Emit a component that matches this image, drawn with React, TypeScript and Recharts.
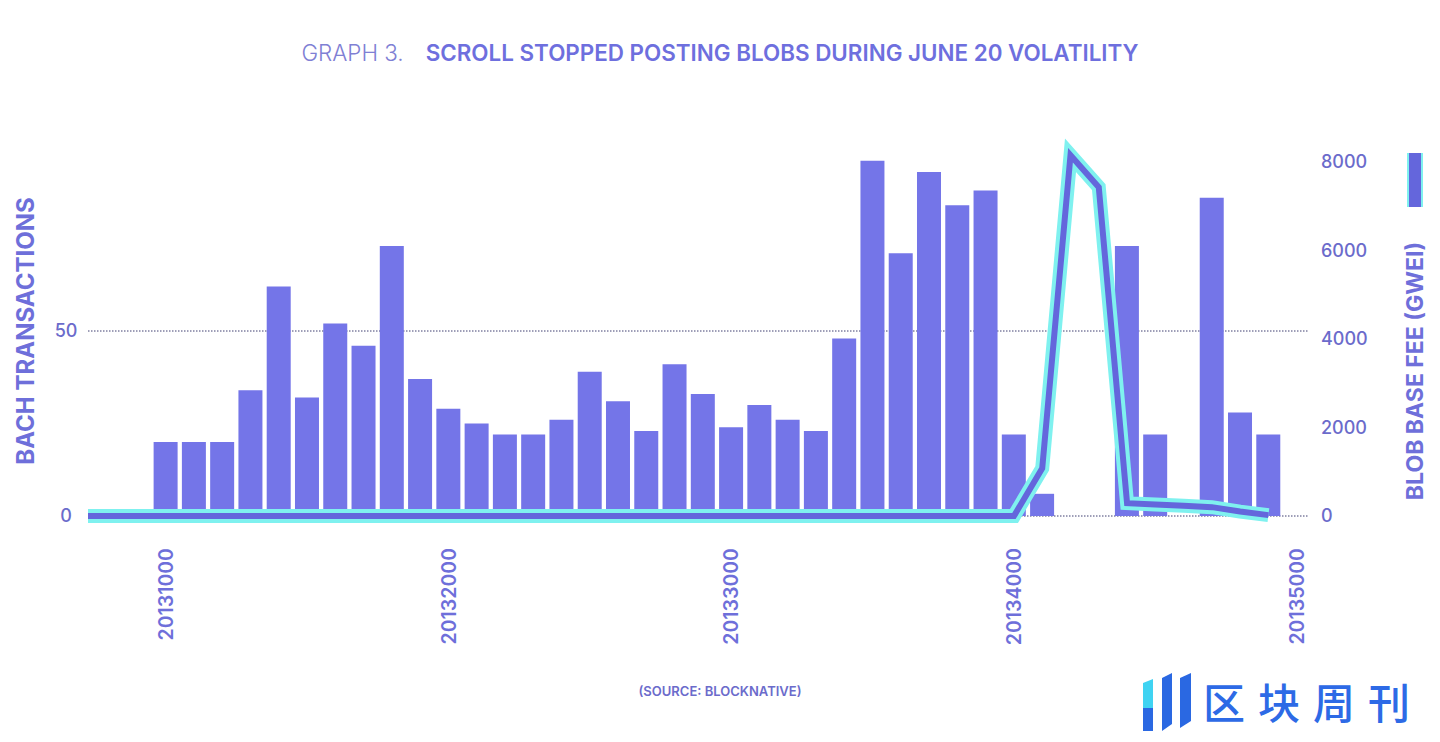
import { ComposedChart, Bar, Line, XAxis, YAxis, CartesianGrid } from "recharts";

// block numbers, one bar per 100 blocks
const blocks = [
  20131000, 20131100, 20131200, 20131300, 20131400, 20131500, 20131600, 20131700, 20131800, 20131900,
  20132000, 20132100, 20132200, 20132300, 20132400, 20132500, 20132600, 20132700, 20132800, 20132900,
  20133000, 20133100, 20133200, 20133300, 20133400, 20133500, 20133600, 20133700, 20133800, 20133900,
  20134000, 20134100, 20134200, 20134300, 20134400, 20134500, 20134600, 20134700, 20134800, 20134900,
];

const batchTransactions = [
  20, 20, 20, 34, 62, 32, 52, 46, 73, 37,
  29, 25, 22, 22, 26, 39, 31, 23, 41, 33,
  24, 30, 26, 23, 48, 96, 71, 93, 84, 88,
  22, 6, 0, 0, 73, 22, 0, 86, 28, 22,
];

const blobBaseFee = [
  0, 0, 0, 0, 0, 0, 0, 0, 0, 0,
  0, 0, 0, 0, 0, 0, 0, 0, 0, 0,
  0, 0, 0, 0, 0, 0, 0, 0, 0, 0,
  0, 1080, 8150, 7430, 290, 260, 230, 200, 100, 20,
];

// fee series starts at the left edge of the plot
const feeStartBlock = 20130725;
const feeStartValue = 0;

const xDomain = [20130725, 20135040];
const xTicks = [20131000, 20132000, 20133000, 20134000, 20135000];
const leftTicks = [0, 50];
const rightTicks = [0, 2000, 4000, 6000, 8000];

const BAR = "#7475E8";
const LINE = "#6466DC";
const GLOW = "#7FF1EF";
const TEXT = "#6B6BCB";
const LABEL = "#6E6FDA";
const FONT = "Inter, 'Noto Sans', sans-serif";

const data = [
  { block: feeStartBlock, tx: null as number | null, fee: feeStartValue },
  ...blocks.map((b, i) => ({ block: b, tx: batchTransactions[i], fee: blobBaseFee[i] })),
];

const XTick = ({ x, y, payload }: any) => (
  <text
    x={x}
    y={y + 24}
    transform={`rotate(-90 ${x} ${y + 24})`}
    textAnchor="end"
    dy="0.36em"
    fill={LABEL}
    fontSize={19.5}
    fontWeight={600}
    fontFamily={FONT}
  >
    {payload.value}
  </text>
);

const LeftTick = ({ x, y, payload }: any) => (
  <text x={x - 14} y={y} dy="0.36em" textAnchor="middle" fill={TEXT} fontSize={18} fontWeight={500} fontFamily={FONT}>
    {payload.value}
  </text>
);

const RightTick = ({ x, y, payload }: any) => (
  <text x={x + 5} y={y} dy="0.36em" textAnchor="start" fill={TEXT} fontSize={18} fontWeight={500} fontFamily={FONT}>
    {payload.value}
  </text>
);

export default function App() {
  return (
    <div style={{ position: "absolute", left: 0, top: 0, width: 1440, height: 742, background: "#fff", fontFamily: FONT }}>
      <div
        style={{
          position: "absolute",
          top: 41,
          width: 1440,
          textAlign: "center",
          fontSize: 22.4,
          lineHeight: "24px",
          whiteSpace: "nowrap",
        }}
      >
        <span style={{ color: "#7F80D4", fontWeight: 300 }}>GRAPH 3.</span>
        <span style={{ display: "inline-block", width: 22 }} />
        <span style={{ color: "#6E6FDE", fontWeight: 600 }}>SCROLL STOPPED POSTING BLOBS DURING JUNE 20 VOLATILITY</span>
      </div>

      <ComposedChart
        width={1440}
        height={742}
        data={data}
        margin={{ top: 146, right: 52, bottom: 96, left: 0 }}
        style={{ position: "absolute", left: 0, top: 0 }}
      >
        <CartesianGrid
          yAxisId="left"
          vertical={false}
          horizontalValues={leftTicks}
          stroke="#3F3F70"
          strokeDasharray="1.5 1.5"
        />
        <XAxis
          dataKey="block"
          type="number"
          domain={xDomain}
          ticks={xTicks}
          allowDataOverflow
          axisLine={false}
          tickLine={false}
          height={130}
          tick={<XTick />}
        />
        <YAxis
          yAxisId="left"
          domain={[0, 100]}
          ticks={leftTicks}
          width={88}
          axisLine={false}
          tickLine={false}
          tick={<LeftTick />}
        />
        <YAxis
          yAxisId="right"
          orientation="right"
          domain={[0, 8360]}
          ticks={rightTicks}
          width={80}
          axisLine={false}
          tickLine={false}
          tick={<RightTick />}
        />
        <Bar yAxisId="left" dataKey="tx" fill={BAR} barSize={24} isAnimationActive={false} />
        <Line
          yAxisId="right"
          dataKey="fee"
          type="linear"
          stroke={GLOW}
          strokeWidth={14}
          strokeLinejoin="miter"
          dot={false}
          activeDot={false}
          isAnimationActive={false}
        />
        <Line
          yAxisId="right"
          dataKey="fee"
          type="linear"
          stroke={LINE}
          strokeWidth={6}
          strokeLinejoin="miter"
          dot={false}
          activeDot={false}
          isAnimationActive={false}
        />
      </ComposedChart>

      <svg width={1440} height={742} style={{ position: "absolute", left: 0, top: 0, pointerEvents: "none" }}>
        <text
          x={25}
          y={331}
          transform="rotate(-90 25 331)"
          textAnchor="middle"
          dy="0.36em"
          fill={LABEL}
          fontSize={24}
          fontWeight={700}
          fontFamily={FONT}
        >
          BACH TRANSACTIONS
        </text>
        <text
          x={1415}
          y={371}
          transform="rotate(-90 1415 371)"
          textAnchor="middle"
          dy="0.36em"
          fill={LABEL}
          fontSize={23}
          fontWeight={700}
          fontFamily={FONT}
        >
          BLOB BASE FEE (GWEI)
        </text>
        <rect x={1407} y={153} width={16} height={54} fill={GLOW} />
        <rect x={1409} y={153} width={12} height={54} fill={LINE} />

        <text x={720} y={691} dy="0.36em" textAnchor="middle" fill={TEXT} fontSize={13} fontWeight={600} fontFamily={FONT}>
          (SOURCE: BLOCKNATIVE)
        </text>

        {/* watermark */}
        <polygon points="1143,683 1153,679 1153,731 1143,731" fill="#3FD3F2" />
        <polygon points="1143,708 1153,708 1153,731 1143,731" fill="#2A68E2" />
        <polygon points="1162,678 1172,673 1172,724 1162,731" fill="#2A68E2" />
        <polygon points="1180,678 1191,673 1191,721 1180,728" fill="#2A68E2" />
        <text
          x={1203}
          y={704}
          dy="0.36em"
          fill="#2D6AE6"
          fontSize={42}
          fontWeight={500}
          letterSpacing={13}
          fontFamily="'Noto Sans CJK SC', sans-serif"
        >
          区块周刊
        </text>
      </svg>
    </div>
  );
}
